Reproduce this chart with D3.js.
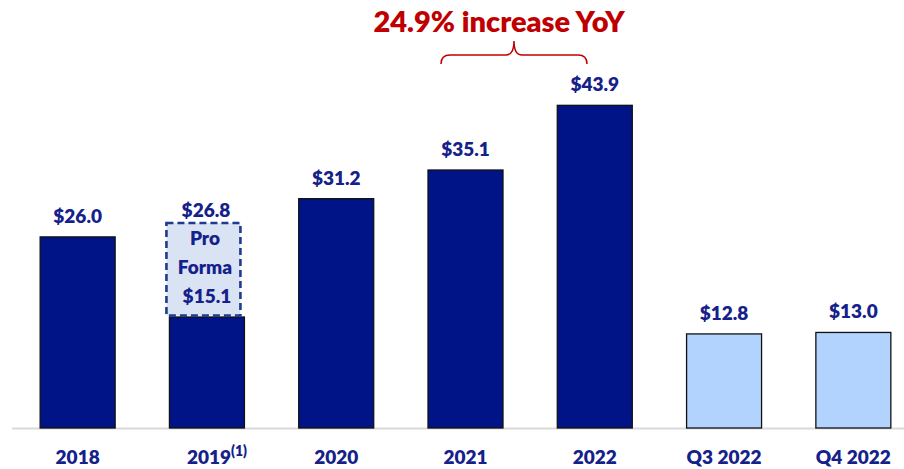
<!DOCTYPE html>
<html><head><meta charset="utf-8">
<script src="https://cdn.jsdelivr.net/npm/d3@7"></script>
<style>body{margin:0;background:#fff}svg{display:block}</style>
</head><body>
<svg id="c" width="904" height="469"></svg>
<script>
const categories = ["2018","2019","2020","2021","2022","Q3 2022","Q4 2022"];
const values = [26.0, 15.1, 31.2, 35.1, 43.9, 12.8, 13.0];
const labels = ["$26.0","$26.8","$31.2","$35.1","$43.9","$12.8","$13.0"];
const kinds = ["annual","annual","annual","annual","annual","quarter","quarter"];
const proFormaTotal = 26.8;
const proFormaLabel = ["Pro","Forma","$15.1"];
const title = "24.9% increase YoY";

const svg = d3.select("#c");
const font = "Lato, 'Open Sans', sans-serif";
const navy = "#001487", textNavy = "#15218A", light = "#B3D3FF";
const x = d3.scaleBand().domain(categories).range([13, 918]).paddingInner(0.42).paddingOuter(0.21);
const y = d3.scaleLinear().domain([0, 50]).range([428, 428 - 50*7.35]);

// axis line
svg.append("line").attr("x1",12).attr("x2",904).attr("y1",428.5).attr("y2",428.5)
  .attr("stroke","#D9D9D9").attr("stroke-width",2);

// bars
svg.selectAll("rect.bar").data(categories).join("rect").attr("class","bar")
  .attr("x", d => x(d)).attr("width", x.bandwidth())
  .attr("y", (d,i) => y(values[i])).attr("height", (d,i) => y(0) - y(values[i]))
  .attr("fill", (d,i) => kinds[i] === "annual" ? navy : light)
  .attr("stroke", "#111").attr("stroke-width", 1.3);

// pro forma dashed box
const bx = x("2019") - 3;
svg.append("rect").attr("x", bx).attr("y", y(proFormaTotal) - 8)
  .attr("width", x.bandwidth()-1).attr("height", y(values[1]) - (y(proFormaTotal) - 8) - 1.5)
  .attr("fill", "#DAE3F3").attr("stroke", "#1F3B8F").attr("stroke-width", 2.6)
  .attr("stroke-dasharray", "7,4");
const pf = svg.append("text").attr("font-family", font).attr("font-weight", 800)
  .attr("font-size", 19).attr("fill", textNavy).attr("text-anchor","middle");
[245, 274, 303].forEach((yy, i) => {
  pf.append("tspan").attr("x", bx + x.bandwidth()/2 + 1 + (i===2?2:0)).attr("y", yy).text(proFormaLabel[i]);
});

// value labels
svg.selectAll("text.val").data(categories).join("text").attr("class","val")
  .attr("x", d => x(d) + x.bandwidth()/2 - (d==="2019"?1:0))
  .attr("y", (d,i) => (d==="2019" ? y(proFormaTotal) : y(values[i])) - 14)
  .attr("text-anchor","middle").attr("font-family", font).attr("font-weight", 800)
  .attr("font-size", 19).attr("fill", textNavy).text((d,i) => labels[i]);

// category labels
const cl = svg.selectAll("text.cat").data(categories).join("text").attr("class","cat")
  .attr("x", d => x(d) + x.bandwidth()/2 + (d==="2019"?10:0)).attr("y", 464)
  .attr("text-anchor","middle").attr("font-family", font).attr("font-weight", 800)
  .attr("font-size", 19).attr("fill", textNavy);
cl.append("tspan").text(d => d);
cl.filter(d => d === "2019").append("tspan").attr("dy", -8).attr("font-size", 14).text("(1)");

// title
svg.append("text").attr("x", 499).attr("y", 32).attr("text-anchor","middle")
  .attr("font-family", font).attr("font-weight", 800).attr("font-size", 29)
  .attr("fill", "#C00000").text(title);

// brace
const b0 = 441, b1 = 587, bm = 514, by = 55;
svg.append("path")
  .attr("d", `M${b0},64 Q${b0},${by} ${b0+9},${by} L${bm-8},${by} Q${bm},${by} ${bm},41 Q${bm},${by} ${bm+8},${by} L${b1-9},${by} Q${b1},${by} ${b1},64`)
  .attr("fill","none").attr("stroke","#C00000").attr("stroke-width",1.5);
</script>
</body></html>
